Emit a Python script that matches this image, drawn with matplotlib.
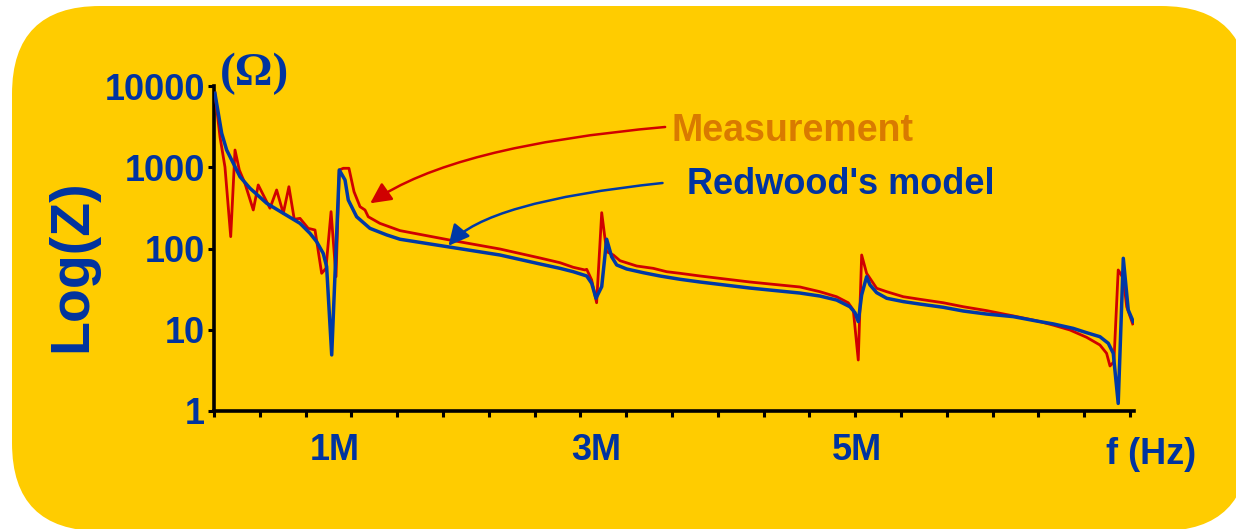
# Impedance |Z| vs frequency: measurement vs Redwood's model

import matplotlib
matplotlib.use("Agg")
import matplotlib.pyplot as plt
from matplotlib.patches import FancyBboxPatch
from matplotlib.ticker import FixedLocator, NullLocator

# frequency in MHz, impedance in ohm
f_meas = [0.080, 0.119, 0.157, 0.201, 0.234, 0.267, 0.310, 0.374, 0.412, 0.502,
          0.553, 0.604, 0.647, 0.688, 0.732, 0.795, 0.847, 0.898, 0.931, 0.970,
          1.008, 1.033, 1.064, 1.107, 1.146, 1.192, 1.230, 1.255, 1.344, 1.498,
          1.881, 2.264, 2.571, 2.724,
          2.826, 2.916, 2.929, 2.967, 3.005, 3.044, 3.082, 3.133, 3.184, 3.312,
          3.439, 3.542, 3.644,
          3.797, 4.180, 4.563, 4.716,
          4.844, 4.933, 4.972, 5.010, 5.036, 5.074, 5.151, 5.228, 5.355, 5.483,
          5.661, 5.815, 5.994, 6.198, 6.377, 6.504, 6.632, 6.760, 6.862, 6.913,
          6.939, 6.969, 7.002, 7.041, 7.067, 7.113]
z_meas = [8200, 2356, 1007, 140, 1630, 925, 634, 298, 605, 313,
          525, 271, 576, 229, 235, 177, 169, 49.5, 57, 284,
          45, 925, 971, 971, 500, 327, 298, 246, 204, 166,
          127, 98.6, 76.4, 66.9,
          58.7, 54.4, 55.5, 41, 21.5, 276, 91.4, 83.2, 70.8, 60.9,
          57, 51.8, 49.5,
          45.9, 38.7, 33.6, 29.4,
          25.5, 21.5, 17.5, 4.24, 83.2, 49.5, 32.4, 29.4, 25.5, 23.7,
          21.5, 19.2, 17.2, 14.8, 12.9, 11.4, 9.93, 8.07, 6.49, 5.13,
          3.58, 4.04, 54.4, 43, 19.2, 11.8]

f_model = [0.080, 0.106, 0.132, 0.170, 0.221, 0.272, 0.349, 0.477, 0.604, 0.732,
           0.808, 0.860, 0.910, 0.936, 0.975, 1.033, 1.077, 1.102, 1.166, 1.268,
           1.396, 1.498,
           1.881, 2.264, 2.571, 2.724,
           2.826, 2.929, 2.967, 3.000, 3.044, 3.082, 3.120, 3.159, 3.235, 3.362,
           3.490, 3.644,
           3.797, 4.180, 4.563, 4.716,
           4.844, 4.946, 4.985, 5.010, 5.036, 5.074, 5.100, 5.151, 5.228, 5.355,
           5.483, 5.661, 5.815, 5.994, 6.198, 6.377, 6.504, 6.657, 6.760, 6.862,
           6.926, 6.964, 7.002, 7.041, 7.079, 7.117]
z_model = [8130, 4615, 2618, 1630, 1119, 765, 551, 360, 271, 204,
           154, 121, 87, 60, 4.9, 925, 697, 395, 246, 177,
           147, 130,
           104, 83.2, 64.5, 57,
           51.8, 45.9, 37.3, 24.4, 33.9, 130, 79.3, 62.7, 56, 50.4,
           45.9, 41.8,
           38.7, 32.6, 28.3, 26,
           23.2, 19.2, 16.2, 12.6, 26.8, 45, 35.6, 28.6, 24.4, 22.2,
           20.7, 18.9, 17, 15.6, 14.5, 12.8, 11.8, 10.4, 9.2, 8.21,
           6.81, 5.13, 1.24, 75.7, 17.5, 12.6]

y_ticks = [1, 10, 100, 1000, 10000]
y_labels = ["1", "10", "100", "1000", "10000"]
x_ticks = [1, 3, 5]
x_labels = ["1M", "3M", "5M"]

YELLOW = "#FFCC00"
BLUE = "#0039A6"
TXT_BLUE = "#0033A0"
RED = "#D00000"
ORANGE = "#D97A00"
FONT = "Liberation Sans"

W, H = 1236, 529
fig = plt.figure(figsize=(W / 100, H / 100), dpi=100, facecolor="white")

# rounded yellow panel behind everything
bg = fig.add_axes([0, 0, 1, 1], zorder=-10)
bg.set_xlim(0, W)
bg.set_ylim(0, H)
bg.axis("off")
bg.add_patch(FancyBboxPatch((12, -2), 1237, 525,
                            boxstyle="round,pad=0,rounding_size=88",
                            facecolor=YELLOW, edgecolor="none"))

ax = fig.add_axes([214 / W, 118 / H, 920 / W, 325 / H])
ax.set_facecolor("none")
ax.plot(f_meas, z_meas, color=RED, lw=2.0, zorder=3)
ax.plot(f_model, z_model, color=BLUE, lw=2.5, zorder=4)

ax.set_yscale("log")
ax.set_ylim(1, 10000)
ax.set_xlim(0.073, 7.123)

for s in ["top", "right"]:
    ax.spines[s].set_visible(False)
for s in ["left", "bottom"]:
    ax.spines[s].set_linewidth(2.6)
    ax.spines[s].set_color("black")

ax.yaxis.set_major_locator(FixedLocator(y_ticks))
ax.yaxis.set_minor_locator(NullLocator())
ax.set_yticklabels(y_labels)
ax.tick_params(axis="y", which="major", direction="out", length=4.5, width=2.2,
               pad=2, labelsize=26, labelcolor=TXT_BLUE)

ax.set_xticks(x_ticks)
ax.set_xticklabels(x_labels)
ax.xaxis.set_minor_locator(FixedLocator([0.073 + 0.351 * i for i in range(21)]))
ax.tick_params(axis="x", which="major", length=0, pad=16, labelsize=26,
               labelcolor=TXT_BLUE)
ax.tick_params(axis="x", which="minor", direction="out", length=4.5, width=2.2)

for lab in ax.get_xticklabels() + ax.get_yticklabels():
    lab.set_fontfamily(FONT)
    lab.set_fontweight("bold")

# arrows pointing to the two curves
ax.annotate("", xy=(1.27, 360), xytext=(3.53, 3130),
            arrowprops=dict(arrowstyle="-|>,head_length=0.9,head_width=0.45",
                            connectionstyle="angle3,angleA=5,angleB=35",
                            color=RED, lw=1.8, mutation_scale=14,
                            shrinkA=0, shrinkB=0))
ax.annotate("", xy=(1.87, 108), xytext=(3.51, 640),
            arrowprops=dict(arrowstyle="-|>,head_length=0.9,head_width=0.45",
                            connectionstyle="angle3,angleA=6,angleB=50",
                            color=BLUE, lw=1.8, mutation_scale=14,
                            shrinkA=0, shrinkB=0))

fig.text(792 / W, 1 - 131 / H, "Measurement", color=ORANGE, fontsize=27,
         fontweight="bold", family=FONT, ha="center", va="center")
fig.text(841 / W, 1 - 184 / H, "Redwood's model", color=TXT_BLUE, fontsize=26,
         fontweight="bold", family=FONT, ha="center", va="center")
fig.text(72 / W, 1 - 266 / H, "Log(Z)", color=TXT_BLUE, fontsize=40,
         fontweight="bold", family=FONT, rotation=90, ha="center", va="center")
fig.text(255 / W, 1 - 74 / H, "(Ω)", color=TXT_BLUE, fontsize=34,
         fontweight="bold", family="Liberation Serif", ha="center", va="center")
fig.text(1151 / W, 1 - 455 / H, "f (Hz)", color=TXT_BLUE, fontsize=26,
         fontweight="bold", family=FONT, ha="center", va="center")

fig.savefig("out.png", dpi=100, facecolor="white")
